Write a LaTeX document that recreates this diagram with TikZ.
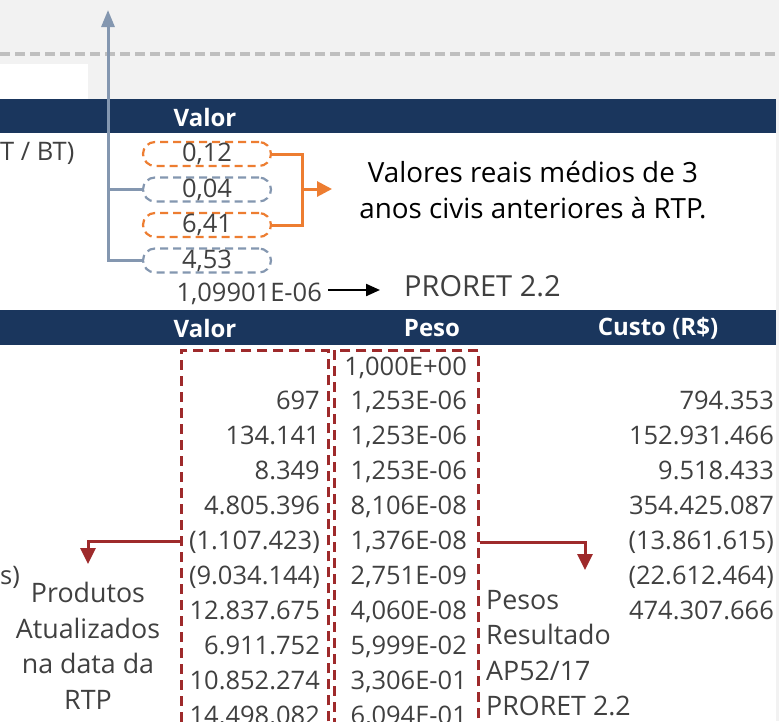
\documentclass[tikz,border=0pt]{standalone}
\usepackage{fontspec}
\setmainfont{Open Sans}
\usetikzlibrary{arrows.meta}
\definecolor{bggray}{HTML}{F2F2F2}
\definecolor{navy}{HTML}{1A365D}
\definecolor{txtgray}{HTML}{404040}
\definecolor{bluegray}{HTML}{8497B0}
\definecolor{orng}{HTML}{ED7D31}
\definecolor{darkred}{HTML}{9E2A2B}
\definecolor{dashgray}{HTML}{BFBFBF}
\tikzset{
  numtxt/.style={font=\fontsize{25.5}{30}\selectfont, text=txtgray, inner sep=0pt},
  hdr/.style={font=\fontsize{24}{28}\selectfont\bfseries, text=white, inner sep=0pt},
  notetxt/.style={font=\fontsize{26.8}{35.5}\selectfont, text=txtgray, inner sep=0pt},
  valbox/.style={numtxt, minimum width=128pt, minimum height=24pt, rounded corners=12pt, line width=2.2pt, dash pattern=on 8pt off 5pt},
  bluebox/.style={valbox, draw=bluegray},
  orangebox/.style={valbox, draw=orng},
  bluecon/.style={draw=bluegray, line width=3pt},
  orangecon/.style={draw=orng, line width=3pt},
  redcon/.style={draw=darkred, line width=3pt},
  redbox/.style={draw=darkred, line width=2.6pt, dash pattern=on 10pt off 6pt, inner sep=0pt},
}
\begin{document}
\begin{tikzpicture}[x=1pt,y=-1pt]
\useasboundingbox (0,0) rectangle (779,721);
\clip (0,0) rectangle (779,721);
% backgrounds
\fill[bggray] (0,0) rectangle (779,721);
\fill[white] (0,99) rectangle (776,721);
\fill[white] (0,64) rectangle (88,99);
\draw[dashgray, line width=3.2pt, dash pattern=on 10pt off 5pt] (0,54) -- (779,54);
\fill[navy] (0,99) rectangle (776,133);
\fill[navy] (0,310) rectangle (776,345);
% headers
\node[hdr] (h1) at (205,117) {Valor};
\node[hdr] (h2) at (205,328) {Valor};
\node[hdr] (h3) at (432,328) {Peso};
\node[hdr] (h4) at (658,328) {Custo (R\$)};
% first table
\node[numtxt, anchor=west] (r1) at (0,153) {T / BT)};
\node[orangebox] (b1) at (207,154) {0,12};
\node[bluebox] (b2) at (207,189.5) {0,04};
\node[orangebox] (b3) at (207,225) {6,41};
\node[bluebox] (b4) at (207,260.5) {4,53};
\coordinate (top) at (108,10);
\draw[bluecon, -{Triangle[length=17pt,width=13pt]}] (b4.west) -| (top);
\draw[bluecon] (b2.west) -- (b2.west -| top);
\coordinate (om) at ([xshift=30pt]b1.east |- 0,189);
\coordinate (oarr) at (332,189);
\draw[orangecon] (b1.east) -- ++(30,0) |- (b3.east);
\draw[orangecon, -{Triangle[length=15pt,width=15pt]}] (om) -- (oarr);
\node[font=\fontsize{27.8}{36}\selectfont, align=center, inner sep=0pt] (t1) at (533,190) {Valores reais médios de 3\\anos civis anteriores à RTP.};
\node[numtxt, anchor=east] (n1) at (322,294) {1,09901E-06};
\node[font=\fontsize{29}{32}\selectfont, text=txtgray, anchor=west, inner sep=0pt] (pr) at (404,286) {PRORET 2.2};
\path (n1.east) ++(6,-4) coordinate (ns);
\draw[black, line width=2.2pt, shorten >=24pt, -{Triangle[length=14pt,width=12pt]}] (ns) -- (ns -| pr.west);
% second table
\foreach \v [count=\i from 1] in {697,134.141,8.349,4.805.396,(1.107.423),(9.034.144),12.837.675,6.911.752,10.852.274,14.498.082}{
  \pgfmathsetmacro\yy{375+34.9*\i}
  \node[numtxt, anchor=base east] (v\i) at (320,\yy) {\v};
}
\foreach \v [count=\i from 0] in {{1,000E+00},{1,253E-06},{1,253E-06},{1,253E-06},{8,106E-08},{1,376E-08},{2,751E-09},{4,060E-08},{5,999E-02},{3,306E-01},{6,094E-01}}{
  \pgfmathsetmacro\yy{375+34.9*\i}
  \node[numtxt, anchor=base east] (p\i) at (467,\yy) {\v};
}
\foreach \v [count=\i from 1] in {794.353,152.931.466,9.518.433,354.425.087,(13.861.615),(22.612.464),474.307.666}{
  \pgfmathsetmacro\yy{375+34.9*\i}
  \node[numtxt, anchor=base east] (c\i) at (774,\yy) {\v};
}
\node[redbox, minimum width=147pt, minimum height=400pt, anchor=north west] (ra) at (180,349) {};
\node[redbox, minimum width=144pt, minimum height=400pt, anchor=north west] (rb) at (333,349) {};
\coordinate (pa) at (88,564);
\coordinate (pb) at (585,570);
\draw[redcon, -{Triangle[length=16pt,width=15pt]}] (ra.west |- 0,541) -| (pa);
\draw[redcon, -{Triangle[length=16pt,width=15pt]}] (rb.east |- 0,542) -| (pb);
\node[numtxt, anchor=west] (r2) at (0,577) {s)};
\node[notetxt, align=center] (t2) at (88,646) {Produtos\\Atualizados\\na data da\\RTP};
\node[notetxt, align=left, anchor=west] (t3) at (486,653) {Pesos\\Resultado\\AP52/17\\PRORET 2.2};
\end{tikzpicture}
\end{document}
